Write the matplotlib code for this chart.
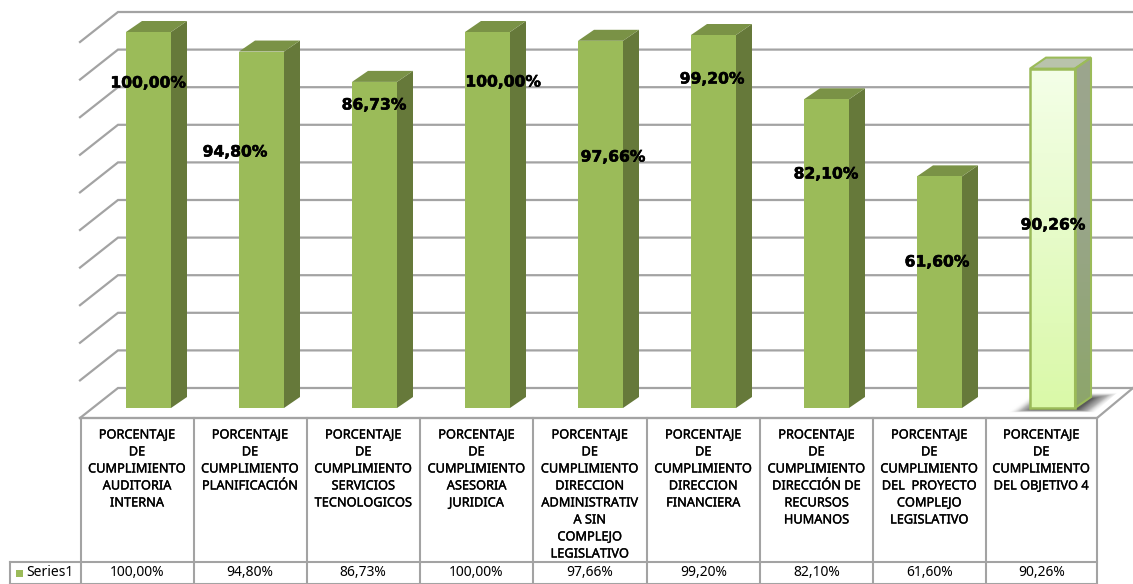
import numpy as np
import matplotlib
matplotlib.use("Agg")
import matplotlib.pyplot as plt
import matplotlib.patheffects as pe
from matplotlib.patches import Polygon, Rectangle
from matplotlib.colors import LinearSegmentedColormap

categories = [
    "PORCENTAJE\nDE\nCUMPLIMIENTO\nAUDITORIA\nINTERNA",
    "PORCENTAJE\nDE\nCUMPLIMIENTO\nPLANIFICACIÓN",
    "PORCENTAJE\nDE\nCUMPLIMIENTO\nSERVICIOS\nTECNOLOGICOS",
    "PORCENTAJE\nDE\nCUMPLIMIENTO\nASESORIA\nJURIDICA",
    "PORCENTAJE\nDE\nCUMPLIMIENTO\nDIRECCION\nADMINISTRATIV\nA SIN\nCOMPLEJO\nLEGISLATIVO",
    "PORCENTAJE\nDE\nCUMPLIMIENTO\nDIRECCION\nFINANCIERA",
    "PROCENTAJE\nDE\nCUMPLIMIENTO\nDIRECCIÓN DE\nRECURSOS\nHUMANOS",
    "PORCENTAJE\nDE\nCUMPLIMIENTO\nDEL  PROYECTO\nCOMPLEJO\nLEGISLATIVO",
    "PORCENTAJE\nDE\nCUMPLIMIENTO\nDEL OBJETIVO 4",
]
values = [100.00, 94.80, 86.73, 100.00, 97.66, 99.20, 82.10, 61.60, 90.26]
value_labels = ["100,00%", "94,80%", "86,73%", "100,00%", "97,66%", "99,20%", "82,10%", "61,60%", "90,26%"]
series_name = "Series1"
grid_values = [0, 10, 20, 30, 40, 50, 60, 70, 80, 90, 100]

W, H = 1133, 584
X0, XSTEP = 148.5, 113.0      # px of first bar centre, px per category
Y0, YSCALE = 408.0, 3.76      # px of the bar base, px per percent

fig = plt.figure(figsize=(W / 100, H / 100), dpi=100, facecolor="white")
ax = fig.add_axes([0, 0, 1, 1])
ax.axis("off")


def X(px):
    return (px - X0) / XSTEP


def Y(py):
    return (Y0 - py) / YSCALE


GRID = "#a3a3a3"
half = 22.5 / XSTEP
dx = 16 / XSTEP
dy = 11 / YSCALE
wall_dy = 20 / YSCALE   # back wall sits above the bar base
left_back, left_front, right_front, right_back = X(118), X(80), X(1097), X(1133)
floor_dy = 30 / YSCALE

# back wall and left wall grid
for g in grid_values:
    yb = g + wall_dy
    ax.plot([left_front, left_back, right_back], [yb - floor_dy, yb, yb],
            color=GRID, lw=1.6, solid_joinstyle="miter", zorder=1)
# floor outline
fy = wall_dy - floor_dy
ax.plot([left_front, right_front, right_back], [fy, fy, wall_dy], color=GRID, lw=1.6, zorder=1)

# shadow beneath the highlighted bar
cmap = LinearSegmentedColormap.from_list(
    "sh", [(0.35, 0.35, 0.35, 1.0), (0.62, 0.62, 0.62, 0.8), (1, 1, 1, 0)])
n = len(values) - 1
gx, gy = np.meshgrid(np.linspace(0, 1, 230), np.linspace(0, 1, 42))
# skew with height so that the fade follows the floor perspective
skew = gx - (1 - gy) * 0.24
field = np.clip((np.abs(skew - 0.42) - 0.19) / 0.2, 0, 1)
field = np.maximum(field, np.clip(1 - gy / 0.3, 0, 1))
field = np.maximum(field, np.clip((gy - 0.85) / 0.15, 0, 1))
im = ax.imshow(field, cmap=cmap, extent=(X(1003), X(1118), Y(413), Y(392)), origin="upper",
               aspect="auto", zorder=1.5, vmin=0, vmax=1, interpolation="bilinear")
clip = Polygon([(X(1003), Y(413)), (X(1094), Y(413)), (X(1118), Y(392)), (X(1029), Y(392))],
               transform=ax.transData, fc="none", ec="none")
ax.add_patch(clip)
im.set_clip_path(clip)

FRONT, SIDE, TOP = "#9BBB59", "#66793A", "#7A9246"
for i, v in enumerate(values):
    l, r = i - half, i + half
    side_pts = [(r, 0), (r + dx, dy), (r + dx, v + dy), (r, v)]
    top_pts = [(l, v), (l + dx, v + dy), (r + dx, v + dy), (r, v)]
    if i == n:
        grad = np.linspace(0, 1, 100).reshape(-1, 1)
        c1 = LinearSegmentedColormap.from_list("f", ["#F4FFE8", "#E6FBC8", "#DAF9A8"])
        c2 = LinearSegmentedColormap.from_list("s", ["#9CA68E", "#98A587", "#8DA66B"])
        side = Polygon(side_pts, fc="none", ec="none", zorder=3)
        ax.add_patch(side)
        ims = ax.imshow(grad, cmap=c2, extent=(r, r + dx, 0, v + dy), origin="upper", aspect="auto", zorder=3)
        ims.set_clip_path(side)
        ax.imshow(grad, cmap=c1, extent=(l, r, 0, v), origin="upper", aspect="auto", zorder=3)
        ax.add_patch(Polygon(top_pts, fc="#B9C3AC", ec=FRONT, lw=1.5, zorder=4))
        ax.add_patch(Polygon(side_pts, fc="none", ec=FRONT, lw=1.5, zorder=4))
        ax.add_patch(Rectangle((l, 0), r - l, v, fc="none", ec=FRONT, lw=1.8, zorder=4))
    else:
        ax.add_patch(Polygon(side_pts, fc=SIDE, ec="none", zorder=3))
        ax.add_patch(Polygon(top_pts, fc=TOP, ec="none", zorder=3))
        ax.add_patch(Rectangle((l, 0), r - l, v, fc=FRONT, ec="none", zorder=3))

# manually placed data labels (pixel centres)
label_px = [(148, 83), (235, 152), (374, 105), (503, 82), (613, 157), (712, 79), (826, 174), (937, 262), (1053, 225)]
for (px, py), t in zip(label_px, value_labels):
    ax.text(X(px), Y(py), t, ha="center", va="center", fontsize=11.2, fontweight="bold",
            family="DejaVu Sans", color="black", zorder=6,
            path_effects=[pe.withStroke(linewidth=0.4, foreground="black")])

# data table
edges_px = [80.5, 193.5, 306.5, 420, 533, 646.5, 760, 873, 985.5, 1097]
t_top, t_mid, t_bot = 418, 561.5, 583.5
for e in edges_px:
    ax.plot([X(e), X(e)], [Y(t_top), Y(t_bot)], color=GRID, lw=1.5, zorder=2)
ax.plot([X(edges_px[0]), X(edges_px[-1])], [Y(t_top)] * 2, color=GRID, lw=1.5, zorder=2)
ax.plot([X(9.5), X(edges_px[-1])], [Y(t_mid)] * 2, color=GRID, lw=1.5, zorder=2)
ax.plot([X(9.5), X(edges_px[-1])], [Y(t_bot)] * 2, color=GRID, lw=1.5, zorder=2)
ax.plot([X(9.5), X(9.5)], [Y(t_mid), Y(t_bot)], color=GRID, lw=1.5, zorder=2)

FONT = "Noto Sans"
thicker = [pe.withStroke(linewidth=0.25, foreground="black")]
for i, (c, t) in enumerate(zip(categories, value_labels)):
    xc = X((edges_px[i] + edges_px[i + 1]) / 2)
    for k, line in enumerate(c.split("\n")):
        ax.text(xc, Y(435 + 17 * k), line, ha="center", va="center", fontsize=9.2, family=FONT,
                color="black", zorder=6, path_effects=thicker)
    ax.text(xc, Y(573), t, ha="center", va="center", fontsize=10, family=FONT, color="black", zorder=6)
ax.add_patch(Rectangle((X(15.5), Y(577)), 7 / XSTEP, 7 / YSCALE, fc=FRONT, ec="none", zorder=6))
ax.text(X(26), Y(573), series_name, ha="left", va="center", fontsize=10, family=FONT, color="black", zorder=6)

ax.set_xlim((0 - X0) / XSTEP, (W - X0) / XSTEP)
ax.set_ylim((Y0 - H) / YSCALE, Y0 / YSCALE)
fig.savefig("out.png", dpi=100, facecolor="white")
